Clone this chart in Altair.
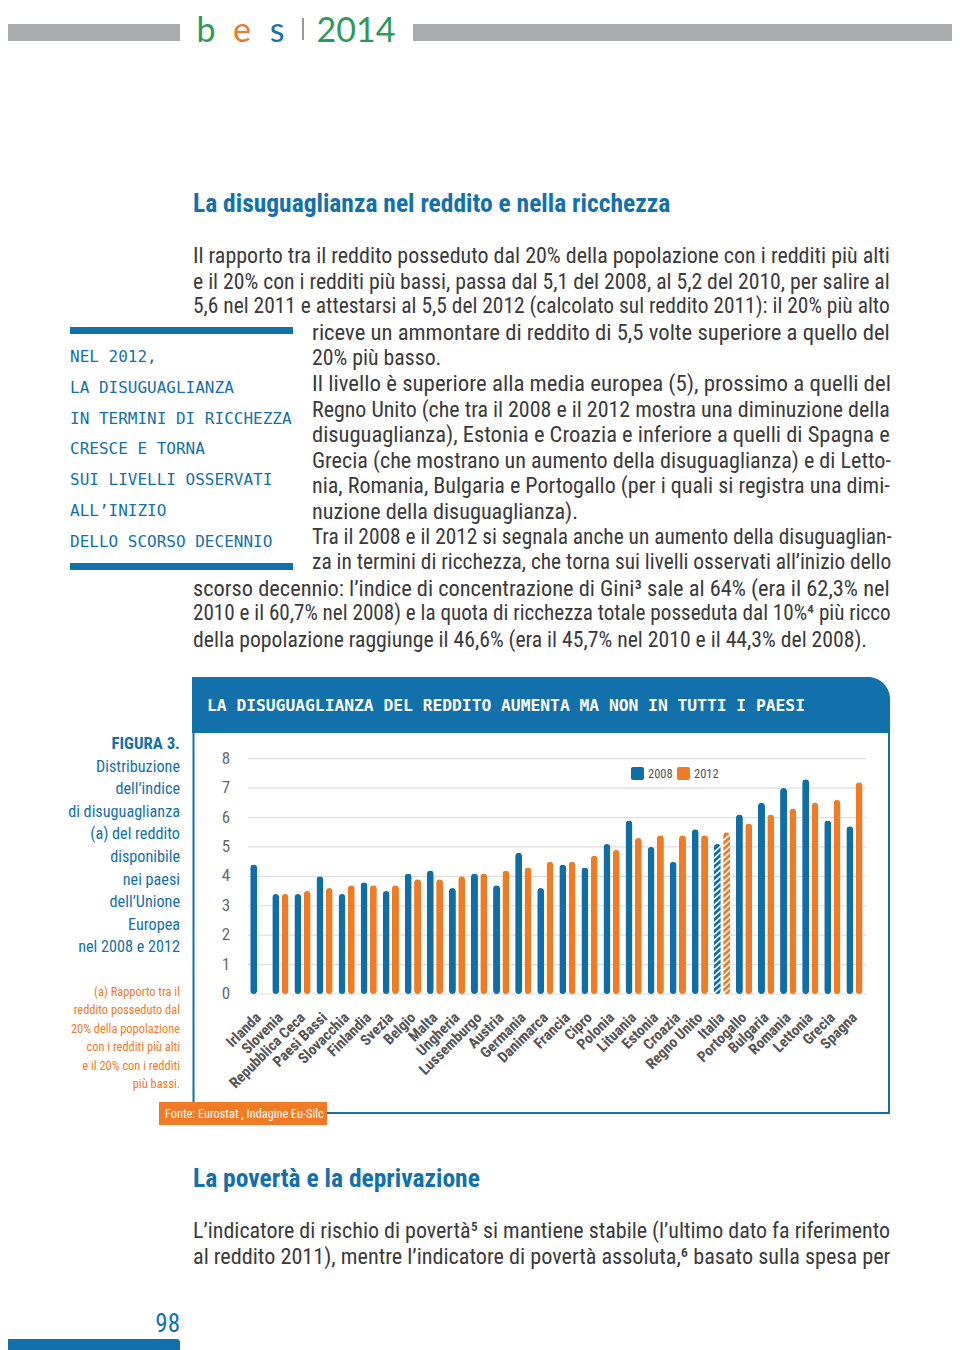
import altair as alt
import pandas as pd
import numpy as np

# ---------------- data ----------------
countries = ["Irlanda", "Slovenia", "Repubblica Ceca", "Paesi Bassi", "Slovacchia", "Finlandia",
             "Svezia", "Belgio", "Malta", "Ungheria", "Lussemburgo", "Austria", "Germania",
             "Danimarca", "Francia", "Cipro", "Polonia", "Lituania", "Estonia", "Croazia",
             "Regno Unito", "Italia", "Portogallo", "Bulgaria", "Romania", "Lettonia", "Grecia", "Spagna"]
v2008 = [4.4, 3.4, 3.4, 4.0, 3.4, 3.8, 3.5, 4.1, 4.2, 3.6, 4.1, 3.7, 4.8, 3.6,
         4.4, 4.3, 5.1, 5.9, 5.0, 4.5, 5.6, 5.1, 6.1, 6.5, 7.0, 7.3, 5.9, 5.7]
v2012 = [None, 3.4, 3.5, 3.6, 3.7, 3.7, 3.7, 3.9, 3.9, 4.0, 4.1, 4.2, 4.3, 4.5,
         4.5, 4.7, 4.9, 5.3, 5.4, 5.4, 5.4, 5.5, 5.8, 6.1, 6.3, 6.5, 6.6, 7.2]
years = ["2008", "2012"]
y_ticks = [0, 1, 2, 3, 4, 5, 6, 7, 8]
hatched_country = "Italia"

rows = []
for c, a, b in zip(countries, v2008, v2012):
    rows.append({"country": c, "year": "2008", "value": a})
    if b is not None:
        rows.append({"country": c, "year": "2012", "value": b})
bars_df = pd.DataFrame(rows)

# ---------------- styles ----------------
BLUE = "#1271ab"
BAR_BLUE = "#0f6ea8"
ORANGE = "#f17a24"
TEXT = "#3a3a3a"
GRAY = "#a9abad"
NARROW = "Liberation Sans Narrow, Roboto Condensed, Arial Narrow, sans-serif"
MONO = "DejaVu Sans Mono, Liberation Mono, monospace"
O = 8  # page margin

dummy = alt.Data(values=[{"k": 0}])


def T(x, y, s, size=22, color=TEXT, font=NARROW, weight="normal", align="left", baseline="middle"):
    return alt.Chart(dummy).mark_text(
        text=s, fontSize=size, color=color, font=font, fontWeight=weight,
        align=align, baseline=baseline
    ).encode(x=alt.value(x - O), y=alt.value(y - O))


def R(x1, y1, x2, y2, color, **kw):
    return alt.Chart(dummy).mark_rect(color=color, **kw).encode(
        x=alt.value(x1 - O), x2=alt.value(x2 - O), y=alt.value(y1 - O), y2=alt.value(y2 - O))


def L(x1, y1, x2, y2, color, w=2):
    return alt.Chart(dummy).mark_rule(color=color, strokeWidth=w).encode(
        x=alt.value(x1 - O), x2=alt.value(x2 - O), y=alt.value(y1 - O), y2=alt.value(y2 - O))


layers = []

# header bar + logo
layers += [R(0, 24, 180, 41, GRAY), R(413, 24, 960, 41, GRAY)]
LOGO = "Lato, Noto Sans, sans-serif"
layers += [
    T(206, 42, "b", size=34, color="#2c9a56", font=LOGO, weight="normal", baseline="alphabetic", align="center"),
    T(242, 42, "e", size=34, color="#ea7a2e", font=LOGO, weight="normal", baseline="alphabetic", align="center"),
    T(277, 42, "s", size=34, color="#1a73b0", font=LOGO, weight="normal", baseline="alphabetic", align="center"),
    R(302, 18, 304, 40, "#999999"),
    T(356, 42, "2014", size=34, color="#2c9a56", font=LOGO, weight="normal", baseline="alphabetic", align="center"),
]

# section title
layers.append(T(193, 204, "La disuguaglianza nel reddito e nella ricchezza", size=25.5, color=BLUE, weight="bold"))

# (x, font size emulating the justified line width, text)
para = [
    (193, 22.0, "Il rapporto tra il reddito posseduto dal 20% della popolazione con i redditi più alti"),
    (193, 21.7, "e il 20% con i redditi più bassi, passa dal 5,1 del 2008, al 5,2 del 2010, per salire al"),
    (193, 21.45, "5,6 nel 2011 e attestarsi al 5,5 del 2012 (calcolato sul reddito 2011): il 20% più alto"),
    (312, 22.7, "riceve un ammontare di reddito di 5,5 volte superiore a quello del"),
    (312, 21.8, "20% più basso."),
    (312, 22.85, "Il livello è superiore alla media europea (5), prossimo a quelli del"),
    (312, 21.95, "Regno Unito (che tra il 2008 e il 2012 mostra una diminuzione della"),
    (312, 22.5, "disuguaglianza), Estonia e Croazia e inferiore a quelli di Spagna e"),
    (312, 22.15, "Grecia (che mostrano un aumento della disuguaglianza) e di Letto-"),
    (312, 22.05, "nia, Romania, Bulgaria e Portogallo (per i quali si registra una dimi-"),
    (312, 22.2, "nuzione della disuguaglianza)."),
    (312, 21.4, "Tra il 2008 e il 2012 si segnala anche un aumento della disuguaglian-"),
    (312, 21.4, "za in termini di ricchezza, che torna sui livelli osservati all’inizio dello"),
    (193, 22.4, "scorso decennio: l’indice di concentrazione di Gini³ sale al 64% (era il 62,3% nel"),
    (193, 21.15, "2010 e il 60,7% nel 2008) e la quota di ricchezza totale posseduta dal 10%⁴ più ricco"),
    (193, 21.7, "della popolazione raggiunge il  46,6% (era il 45,7% nel 2010 e il 44,3% del 2008)."),
]
for i, (x, sz, s) in enumerate(para):
    layers.append(T(x, 256 + i * 25.6, s, size=sz))

# sidebar
layers += [R(70, 327, 293, 334, BLUE), R(70, 563, 293, 570, BLUE)]
side = ["NEL 2012,", "LA DISUGUAGLIANZA", "IN TERMINI DI RICCHEZZA", "CRESCE E TORNA",
        "SUI LIVELLI OSSERVATI", "ALL’INIZIO", "DELLO SCORSO DECENNIO"]
for i, s in enumerate(side):
    layers.append(T(70, 357 + i * 30.8, s, size=16, color=BLUE, font=MONO))

# chart frame
layers += [
    R(192, 677, 890, 733, BLUE, cornerRadiusTopRight=22),
    L(193.5, 732, 193.5, 1103, BLUE),
    L(889, 700, 889, 1114, BLUE),
    L(327, 1113, 890, 1113, BLUE),
    T(207, 706, "LA DISUGUAGLIANZA DEL REDDITO AUMENTA MA NON IN TUTTI I PAESI",
      size=16.3, color="white", font=MONO, weight="bold"),
    R(159, 1102, 327, 1125, ORANGE),
    T(165, 1114, "Fonte: Eurostat , Indagine Eu-Silc", size=12.3, color="white"),
]

# figure caption
cap = ["Distribuzione", "dell’indice", "di disuguaglianza", "(a) del reddito", "disponibile",
       "nei paesi", "dell’Unione", "Europea", "nel 2008 e 2012"]
layers.append(T(180, 744, "FIGURA 3.", size=16.8, color=BLUE, weight="bold", align="right"))
for i, s in enumerate(cap):
    layers.append(T(180, 766.5 + i * 22.6, s, size=16.2, color=BLUE, align="right"))
note = ["(a) Rapporto tra il", "reddito posseduto dal", "20% della popolazione",
        "con i redditi più alti", "e il 20% con i redditi", "più bassi."]
for i, s in enumerate(note):
    layers.append(T(180, 992 + i * 18.4, s, size=12.4, color=ORANGE, align="right"))

# second section
layers.append(T(193, 1179, "La povertà e la deprivazione", size=25.5, color=BLUE, weight="bold"))
layers.append(T(193, 1231, "L’indicatore di rischio di povertà⁵ si mantiene stabile (l’ultimo dato fa riferimento", size=22.0))
layers.append(T(193, 1257, "al reddito 2011), mentre l’indicatore di povertà assoluta,⁶ basato sulla spesa per", size=22.2))

# page number
layers += [T(180, 1324, "98", size=25, color=BLUE, align="right"),
           R(0, 1339, 180, 1351, BLUE, cornerRadiusTopRight=3)]

# ---------------- bar chart (through scales) ----------------
xscale = alt.Scale(domain=countries, range=[247.3 - O, 865.5 - O], paddingInner=0, paddingOuter=0)
xoff = alt.Scale(domain=years, paddingInner=0.25, paddingOuter=0.31)
yscale = alt.Scale(domain=[0, 8], range=[994 - O, 758.7 - O], nice=False, zero=True)

ticks_df = pd.DataFrame({"tick": y_ticks})
grid = alt.Chart(ticks_df).mark_rule(color="#dedede", strokeWidth=1.2).encode(
    y=alt.Y("tick:Q", scale=yscale, axis=None),
    x=alt.value(248 - O), x2=alt.value(866 - O))
ylabels = alt.Chart(ticks_df).mark_text(font=NARROW, fontSize=17, color="#6a6a6a", align="center",
                                        baseline="middle").encode(
    y=alt.Y("tick:Q", scale=yscale, axis=None), x=alt.value(226 - O), text="tick:Q")

bars = alt.Chart(bars_df).mark_bar(cornerRadius=3.5).encode(
    x=alt.X("country:N", sort=countries, scale=xscale, axis=None),
    xOffset=alt.XOffset("year:N", scale=xoff),
    y=alt.Y("value:Q", scale=yscale, axis=None),
    color=alt.Color("year:N", scale=alt.Scale(domain=years, range=[BAR_BLUE, ORANGE]), legend=None),
)

# hatch decoration for the hatched country's bars
hrows = []
for r in rows:
    if r["country"] == hatched_country:
        for h in np.arange(0.12, r["value"] - 0.08, 0.2):
            hrows.append({"country": r["country"], "year": r["year"], "h": float(h)})
hatch = alt.Chart(pd.DataFrame(hrows)).mark_point(
    shape="M -1 0.9 L 1 -0.9", stroke="white", strokeWidth=1.6, size=49, filled=False, opacity=1
).encode(
    x=alt.X("country:N", sort=countries, scale=xscale, axis=None),
    xOffset=alt.XOffset("year:N", scale=xoff),
    y=alt.Y("h:Q", scale=yscale, axis=None),
)

clabels = alt.Chart(pd.DataFrame({"country": countries})).mark_text(
    font=NARROW, fontSize=15, fontWeight="bold", color="#555555", align="right",
    baseline="middle", angle=315
).encode(
    x=alt.X("country:N", sort=countries, scale=xscale, axis=None),
    y=alt.value(1015 - O), text="country:N")

# legend
layers += [
    R(631, 767, 644, 780, BAR_BLUE, cornerRadius=2),
    T(648, 774, "2008", size=12.5, color="#555555"),
    R(677, 767, 690, 780, ORANGE, cornerRadius=2),
    T(694, 774, "2012", size=12.5, color="#555555"),
]

chart = alt.layer(*layers, grid, ylabels, bars, hatch, clabels).properties(
    width=944, height=1342, autosize=alt.AutoSizeParams(type="none"), padding=0,
    background="white"
).configure_view(stroke=None)

chart.save("out.html", embed_options={"renderer": "svg", "actions": False})
